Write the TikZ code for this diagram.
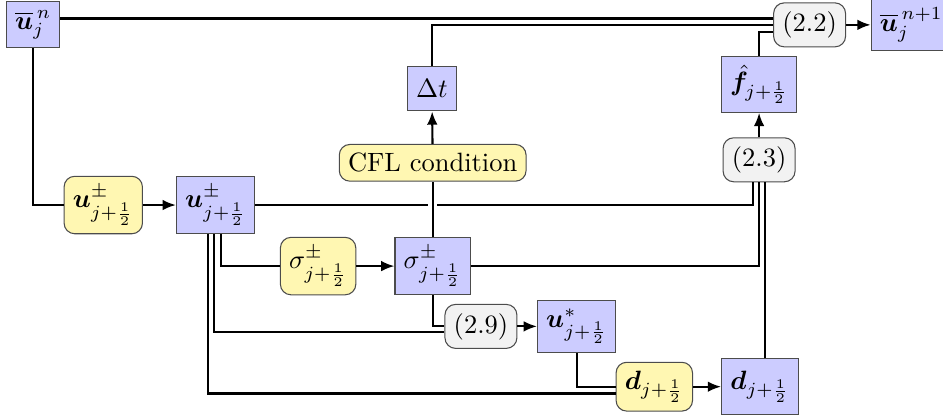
\documentclass[tikz,border=0pt]{standalone}
\usepackage{amsmath,bm}
\usetikzlibrary{calc,arrows.meta}
\definecolor{qblue}{RGB}{204,204,255}
\definecolor{ryellow}{RGB}{255,247,178}
\definecolor{fgray}{RGB}{242,242,242}
\tikzset{
  quantity/.style={draw=black!70, fill=qblue, inner sep=3.3pt},
  recon/.style={draw=black!70, fill=ryellow, rounded corners=4pt, inner sep=3.3pt},
  formula/.style={draw=black!70, fill=fgray, rounded corners=4pt, inner sep=3.3pt},
  link/.style={thick},
  bridge/.style={preaction={draw, white, line width=3.5pt, shorten <=4pt, shorten >=4pt}}
}
\begin{document}
\begin{tikzpicture}[>={Latex[length=5pt,width=4pt]}]
\useasboundingbox (0,0) rectangle (12.51,5.52);
% top row
\node[quantity] (un) at (0.44,5.19) {$\overline{\bm u}_j^{\,n}$};
\node[formula] (r22) at (10.74,5.19) {(2.2)};
\node[quantity, anchor=west] (un1) at (11.55,5.19) {$\overline{\bm u}_j^{\,n+1}$};
\node[quantity, minimum height=16.6pt] (dt) at (5.73,4.34) {$\Delta t$};
\node[quantity] (fh) at (10.07,4.40) {$\hat{\bm f}_{j+\frac12}$};
% middle
\node[recon] (cfl) at (5.74,3.36) {CFL condition};
\node[formula] (r23) at (10.07,3.40) {(2.3)};
\node[recon] (uy) at (1.37,2.80) {$\bm u^{\pm}_{j+\frac12}$};
\node[quantity] (ub) at (2.86,2.80) {$\bm u^{\pm}_{j+\frac12}$};
\node[recon] (sy) at (4.22,1.99) {$\sigma^{\pm}_{j+\frac12}$};
\node[quantity] (sb) at (5.74,1.99) {$\sigma^{\pm}_{j+\frac12}$};
% bottom
\node[formula] (r29) at (6.38,1.19) {(2.9)};
\node[quantity] (us) at (7.65,1.19) {$\bm u^{*}_{j+\frac12}$};
\node[recon] (dy) at (8.68,0.39) {$\bm d_{j+\frac12}$};
\node[quantity, minimum height=21pt] (db) at (10.08,0.39) {$\bm d_{j+\frac12}$};
% entry points of bundled lines
\coordinate (r22a) at ($(r22.west)+(0,0.085)$);
\coordinate (r22c) at ($(r22.west)+(0,-0.09)$);
\coordinate (r23a) at ($(r23.south)+(-0.08,0)$);
\coordinate (r23c) at ($(r23.south)+(0.075,0)$);
\coordinate (r29b) at ($(r29.west)+(0,-0.08)$);
\coordinate (dyb) at ($(dy.west)+(0,-0.09)$);
\coordinate (uba) at ($(ub.south)+(-0.1,0)$);
\coordinate (ubb) at ($(ub.south)+(-0.02,0)$);
\coordinate (ubc) at ($(ub.south)+(0.075,0)$);
% connectors
\draw[link] (un.east |- r22a) -- (r22a);
\draw[link] (dt.north) |- (r22.west);
\draw[link] (fh.north) |- (r22c);
\draw[link,->] (r22) -- (un1);
\draw[link] (un.south) |- (uy.west);
\draw[link,->] (uy) -- (ub);
\draw[link] (ub.east) -| (r23a);
\draw[link] (sb.east) -| (r23.south);
\draw[link] (db.north -| r23c) -- (r23c);
\draw[link,->] (r23) -- (fh);
\draw[link,->] (cfl) -- (dt);
\draw[link,bridge] (sb.north) -- (cfl.south);
\draw[link] (ubc) |- (sy.west);
\draw[link] (ubb) |- (r29b);
\draw[link] (uba) |- (dyb);
\draw[link,->] (sy) -- (sb);
\draw[link] (sb.south) |- (r29.west);
\draw[link,->] (r29) -- (us);
\draw[link] (us.south) |- (dy.west);
\draw[link,->] (dy) -- (db);
\end{tikzpicture}
\end{document}
